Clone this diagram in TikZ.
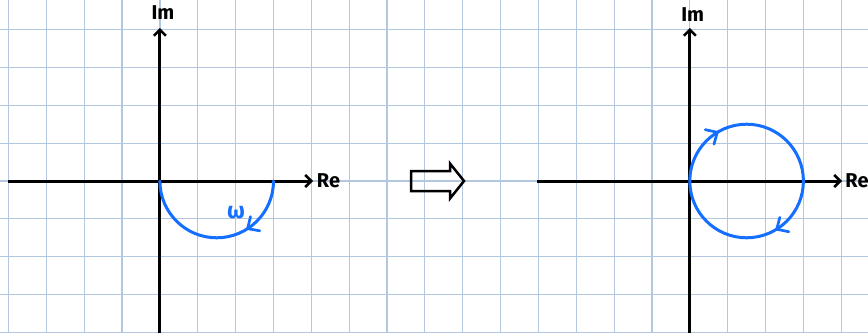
\documentclass[tikz,border=0pt]{standalone}
\usepackage{fontspec}
\setmainfont{Fira Sans}
\usetikzlibrary{arrows.meta,decorations.markings}
\definecolor{gridc}{RGB}{180,199,224}
\definecolor{penblue}{RGB}{20,110,255}
\tikzset{
  gridline/.style={draw=gridc,line width=1.2pt},
  axis/.style={draw=black,line width=3pt,-{Straight Barb[length=6pt,width=12pt,line width=2.5pt]}},
  axlabel/.style={font=\fontsize{20}{20}\selectfont\bfseries,inner sep=0pt},
  curve/.style={draw=penblue,line width=3pt,line cap=round},
  hollow/.style={draw=black,line width=2.5pt,line join=miter},
  chev/.style={draw=penblue,line width=2.7pt,line cap=round,line join=round}
}
\begin{document}
\begin{tikzpicture}[x=1pt,y=1pt]
\useasboundingbox (0,0) rectangle (868,333);
% grid
\foreach \k in {0,...,22} \draw[gridline] ({8.5+37.85*\k},0) -- ({8.5+37.85*\k},333);
\foreach \m in {-4,...,4} \draw[gridline] (0,{152+37.85*\m}) -- (868,{152+37.85*\m});
% left panel
\coordinate (L0) at (8,152);
\coordinate (LRe) at (313,152);
\coordinate (LB) at (159.9,0);
\coordinate (LIm) at (159.9,305);
\draw[axis] (L0) -- (LRe);
\draw[axis] (LB) -- (LIm);
\node[axlabel] (re1) at (328.5,152) {Re};
\node[axlabel] (im1) at (163,320) {Im};
\draw[curve] (273.5,152) arc[start angle=0,end angle=-180,radius=56.8];
% chevron on left curve at angle -57, direction of travel: tangent 
\draw[chev,shift={(247.6,104.4)},rotate=-147] (-9,8.5) -- (0,0) -- (-9,-8.5);
\node[text=penblue,font=\fontsize{23}{23}\selectfont\bfseries,inner sep=0pt] (w) at (236,120) {ω};
% hollow arrow
\draw[hollow] (411,142) -- (450,142) -- (450,134.5) -- (464,152) -- (450,169.5) -- (450,162) -- (411,162) -- cycle;
% right panel
\coordinate (R0) at (537,152);
\coordinate (RRe) at (842,152);
\coordinate (RB) at (689.8,0);
\coordinate (RIm) at (689.8,305);
\draw[axis] (R0) -- (RRe);
\draw[axis] (RB) -- (RIm);
\node[axlabel] (re2) at (857,152) {Re};
\node[axlabel] (im2) at (692.7,318.5) {Im};
\draw[curve] (746.6,152) circle[radius=56.8];
\draw[chev,shift={(717.3,200.7)},rotate=31] (-9,8.5) -- (0,0) -- (-9,-8.5);
\draw[chev,shift={(776.7,103.7)},rotate=-148] (-9,8.5) -- (0,0) -- (-9,-8.5);
\end{tikzpicture}
\end{document}
